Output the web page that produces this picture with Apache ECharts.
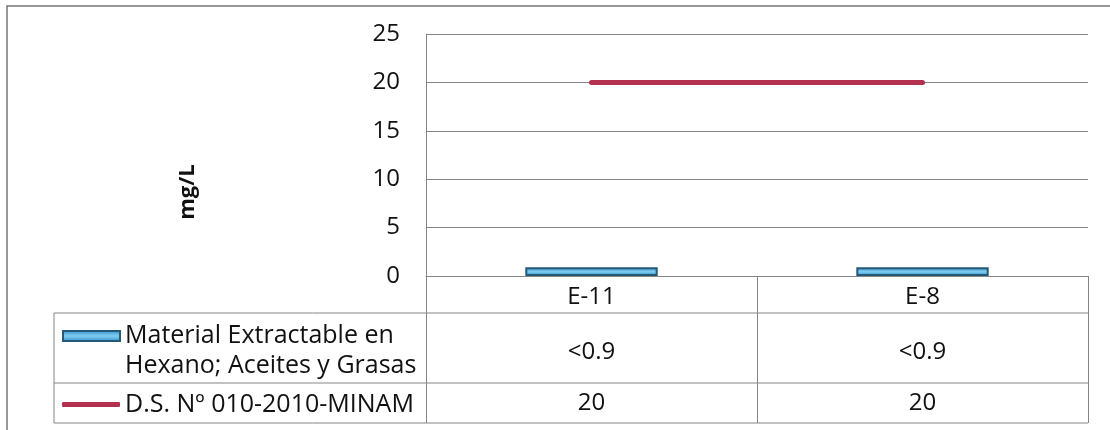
<!DOCTYPE html>
<html>
<head>
<meta charset="utf-8">
<script src="https://cdn.jsdelivr.net/npm/echarts@6/dist/echarts.min.js"></script>
<style>
html,body{margin:0;padding:0;background:#fff;}
#chart{width:1110px;height:430px;}
</style>
</head>
<body>
<div id="chart"></div>
<script>
// ---- data ----
const categories = ['E-11', 'E-8'];
const barLegendLines = ['Material Extractable en', 'Hexano; Aceites y Grasas'];
const barName = barLegendLines.join(' ');
const lineName = 'D.S. Nº 010-2010-MINAM';
const barValues = [0.9, 0.9];
const barLabels = ['<0.9', '<0.9'];
const limitValues = [20, 20];
const limitLabels = ['20', '20'];
const yMin = 0, yMax = 25, yInterval = 5;

// ---- style ----
const FONT = 'Open Sans';
const TXT = '#111111';
const GRID = '#858585';
const FS = 24;
const LFS = 25;
const RED = '#b3304f';

const chart = echarts.init(document.getElementById('chart'), null, {renderer: 'canvas'});

const option = {
  backgroundColor: '#ffffff',
  animation: false,
  textStyle: {fontFamily: FONT},
  grid: {left: 426, top: 34, right: 22, bottom: 154, containLabel: false},
  legend: [
    {
      data: [barName], left: 62, top: 291, padding: 0,
      itemWidth: 57, itemHeight: 10, icon: 'rect',
      formatter: () => '\n' + barLegendLines.join('\n'),
      textStyle: {fontFamily: FONT, fontSize: LFS, color: TXT, lineHeight: 30}
    },
    {
      data: [{name: lineName, icon: 'roundRect'}], left: 62, top: 392, padding: 0,
      itemWidth: 58, itemHeight: 5,
      textStyle: {fontFamily: FONT, fontSize: LFS, color: TXT}
    }
  ],
  xAxis: [
    {
      type: 'category', data: categories, position: 'bottom',
      axisLine: {show: true, lineStyle: {color: GRID, width: 1}},
      axisTick: {show: true, length: 147, lineStyle: {color: GRID, width: 1}},
      axisLabel: {margin: 21, verticalAlign: 'middle', fontFamily: FONT, fontSize: FS, color: TXT},
      splitLine: {show: false}
    },
    {
      type: 'category', data: categories, position: 'bottom',
      axisLine: {show: false}, axisTick: {show: false}, splitLine: {show: false},
      axisLabel: {margin: 76, verticalAlign: 'middle', fontFamily: FONT, fontSize: FS, color: TXT,
        formatter: (v, i) => barLabels[i]}
    },
    {
      type: 'category', data: categories, position: 'bottom',
      axisLine: {show: false}, axisTick: {show: false}, splitLine: {show: false},
      axisLabel: {margin: 127, verticalAlign: 'middle', fontFamily: FONT, fontSize: FS, color: TXT,
        formatter: (v, i) => limitLabels[i]}
    }
  ],
  yAxis: {
    type: 'value', min: yMin, max: yMax, interval: yInterval,
    axisLine: {show: true, lineStyle: {color: GRID, width: 1}},
    axisTick: {show: false},
    axisLabel: {margin: 26, fontFamily: FONT, fontSize: FS, color: TXT},
    splitLine: {show: true, lineStyle: {color: GRID, width: 1}}
  },
  series: [
    {
      name: barName, type: 'bar', data: barValues, barWidth: '40%',
      xAxisIndex: 0,
      itemStyle: {
        color: new echarts.graphic.LinearGradient(0, 0, 0, 1, [
          {offset: 0, color: '#2e8cc6'},
          {offset: 0.5, color: '#7fcdf0'},
          {offset: 1, color: '#2e8cc6'}
        ]),
        borderColor: '#245a78', borderWidth: 2
      }
    },
    {
      name: lineName, type: 'line', data: limitValues, xAxisIndex: 0,
      symbol: 'none', showSymbol: false,
      lineStyle: {color: RED, width: 5, cap: 'round'},
      itemStyle: {color: RED}
    }
  ],
  graphic: [
    {type: 'rect', silent: true, shape: {x: 7, y: 6, width: 1300, height: 600},
      style: {fill: 'none', stroke: '#777', lineWidth: 1.5}},
    {type: 'line', silent: true, shape: {x1: 54, y1: 313, x2: 1088, y2: 313}, style: {stroke: GRID, lineWidth: 1}},
    {type: 'line', silent: true, shape: {x1: 54, y1: 383, x2: 1088, y2: 383}, style: {stroke: GRID, lineWidth: 1}},
    {type: 'line', silent: true, shape: {x1: 54, y1: 423, x2: 1088, y2: 423}, style: {stroke: GRID, lineWidth: 1}},
    {type: 'line', silent: true, shape: {x1: 54, y1: 313, x2: 54, y2: 423}, style: {stroke: GRID, lineWidth: 1}},
    {type: 'text', silent: true, x: 188, y: 192, rotation: Math.PI / 2,
      style: {text: 'mg/L', x: 0, y: 0, align: 'center', verticalAlign: 'middle',
        font: 'bold 22px ' + FONT, fill: TXT}}
  ]
};
chart.setOption(option);
</script>
</body>
</html>
